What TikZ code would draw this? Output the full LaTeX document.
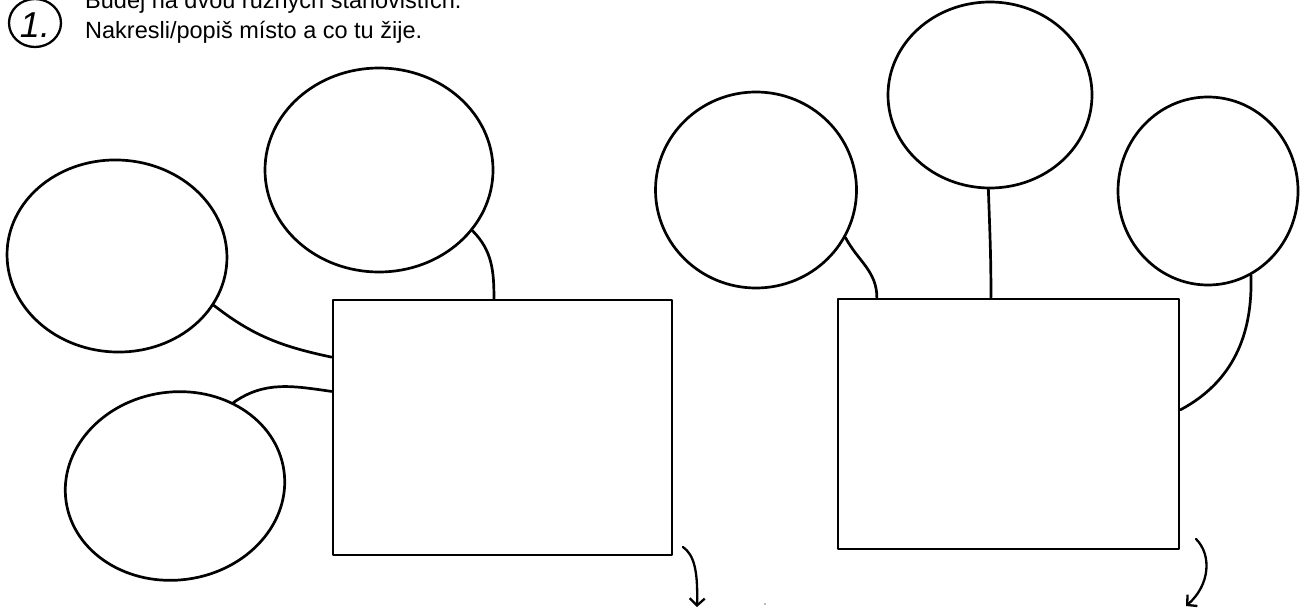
\documentclass[tikz,border=0pt]{standalone}
\usepackage{fontspec}
\setmainfont{Liberation Sans}
\usetikzlibrary{shapes.geometric,calc,arrows.meta}
\tikzset{
  ink/.style={line width=2.7pt, line cap=round, line join=round, black},
  blob/.style={ink, draw, ellipse, inner sep=0pt},
  box/.style={ink, draw, rectangle, inner sep=0pt},
  link/.style={ink},
  hint/.style={ink, line width=2.3pt, -{Straight Barb[length=7pt,width=15pt,line width=2.3pt]}},
  txt/.style={anchor=base west, inner sep=0pt, font=\fontsize{23.5pt}{28pt}\selectfont}
}
\begin{document}
\begin{tikzpicture}[x=1pt,y=-1pt]
\useasboundingbox (0,0) rectangle (1308,615);
\clip (0,0) rectangle (1308,615);
\fill[white] (0,0) rectangle (1308,615);
% header
\node[draw, ellipse, line width=2.3pt, minimum width=52pt, minimum height=48pt, inner sep=0pt] (num) at (35,23) {};
\node[inner sep=0pt, font=\fontsize{36pt}{36pt}\selectfont\itshape] (numtxt) at (35,25) {1.};
\node[txt] (line1) at (85,9) {Budej na dvou různých stanovištích.};
\node[txt] (line2) at (85,39) {Nakresli/popiš místo a co tu žije.};
% left group
\node[box, minimum width=339pt, minimum height=255pt] (L) at (502.5,427.5) {};
\node[blob, minimum width=220pt, minimum height=192pt, rotate=-3] (A) at (117,256) {};
\node[blob, minimum width=228pt, minimum height=204pt] (B) at (379,170) {};
\node[blob, minimum width=220pt, minimum height=188pt, rotate=8] (C) at (175,486) {};
\draw[link] (A.-24) to[out=-38, in=168] ($(L.north west)!0.227!(L.south west)$);
\draw[link] (B.-33) to[out=-45, in=90] ($(L.north west)!0.475!(L.north east)$);
\draw[link] ($(L.north west)!0.36!(L.south west)$) to[out=172, in=35] (C.47);
% right group
\node[box, minimum width=341pt, minimum height=250pt] (R) at (1008.5,424) {};
\node[blob, minimum width=201pt, minimum height=196pt] (D) at (756,190) {};
\node[blob, minimum width=204pt, minimum height=186pt] (E) at (990,95) {};
\node[blob, minimum width=180pt, minimum height=188pt] (F) at (1208,191) {};
\draw[link] (D.-28) to[out=-62, in=90] ($(R.north west)!0.117!(R.north east)$);
\draw[link] (E.-91) to[out=-88, in=90] ($(R.north west)!0.449!(R.north east)$);
\draw[link] (F.-63) to[out=-88, in=28] ($(R.north east)!0.444!(R.south east)$);
% arrows
\coordinate (a1s) at (683,547);
\coordinate (a1e) at (697,607);
\coordinate (a2s) at (1196,539);
\coordinate (a2e) at (1186,606);
\draw[hint] (a1s) .. controls (694,555) and (698,570) .. (a1e);
\draw[hint] (a2s) .. controls (1212,555) and (1210,585) .. (a2e);
\fill[gray!70] (765,604) circle (1.2pt);
\end{tikzpicture}
\end{document}
